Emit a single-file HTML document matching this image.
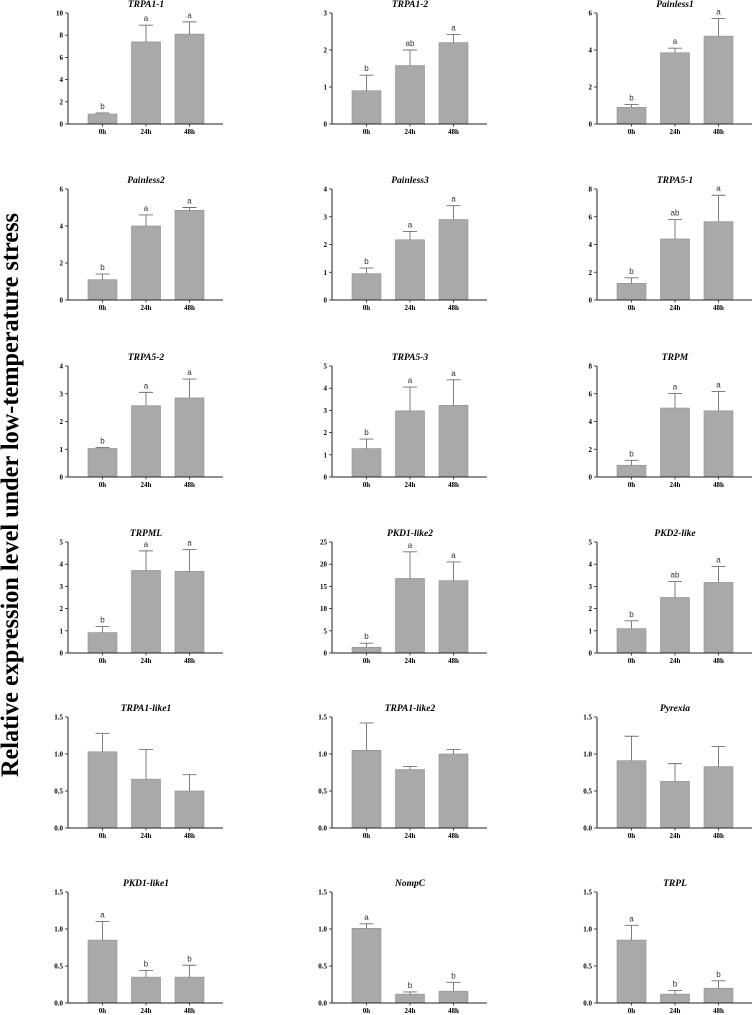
<!DOCTYPE html>
<html><head><meta charset="utf-8"><style>
html,body{margin:0;padding:0;background:#fff;}
svg{display:block;}
</style></head><body>
<svg id="fig" width="756" height="1015" viewBox="0 0 756 1015" xmlns="http://www.w3.org/2000/svg">
<text x="0" y="0" transform="translate(18,495) rotate(-90)" text-anchor="middle" font-family="Liberation Serif, serif" font-weight="bold" font-size="25" textLength="564" lengthAdjust="spacingAndGlyphs">Relative expression level under low-temperature stress</text>
</svg>
<script>
const genes=["TRPA1-1","TRPA1-2","Painless1","Painless2","Painless3","TRPA5-1","TRPA5-2","TRPA5-3","TRPM","TRPML","PKD1-like2","PKD2-like","TRPA1-like1","TRPA1-like2","Pyrexia","PKD1-like1","NompC","TRPL"];
const categories=["0h","24h","48h"];
const means=[[0.9,7.4,8.1],[0.9,1.58,2.2],[0.9,3.85,4.75],[1.1,4.0,4.85],[0.95,2.17,2.9],[1.2,4.4,5.65],[1.03,2.57,2.85],[1.28,2.98,3.23],[0.85,4.97,4.77],[0.92,3.72,3.68],[1.3,16.8,16.3],[1.1,2.5,3.18],[1.03,0.66,0.5],[1.05,0.79,1.0],[0.91,0.63,0.83],[0.85,0.35,0.35],[1.01,0.12,0.16],[0.85,0.12,0.2]];
const errors=[[0.1,1.5,1.1],[0.42,0.42,0.22],[0.15,0.25,0.95],[0.3,0.6,0.15],[0.2,0.3,0.5],[0.4,1.4,1.9],[0.03,0.48,0.68],[0.43,1.07,1.15],[0.35,1.05,1.4],[0.27,0.88,0.98],[0.9,6,4.2],[0.35,0.72,0.72],[0.25,0.4,0.22],[0.37,0.04,0.06],[0.33,0.24,0.27],[0.25,0.09,0.16],[0.06,0.03,0.12],[0.2,0.05,0.1]];
const letters=[["b","a","a"],["b","ab","a"],["b","a","a"],["b","a","a"],["b","a","a"],["b","ab","a"],["b","a","a"],["b","a","a"],["b","a","a"],["b","a","a"],["b","a","a"],["b","ab","a"],["","",""],["","",""],["","",""],["a","b","b"],["a","b","b"],["a","b","b"]];
const yMax=[10,3,6,6,4,8,4,5,8,5,25,5,1.5,1.5,1.5,1.5,1.5,1.5];
const yStep=[2,1,2,2,1,2,1,1,2,1,5,1,0.5,0.5,0.5,0.5,0.5,0.5];
const NS="http://www.w3.org/2000/svg";
const svg=document.getElementById('fig');
const colX=[68,332,597];
const rowBottom=[124,300,477,653,828,1003];
const PH=111;
function mk(tag,attrs,parent){const e=document.createElementNS(NS,tag);for(const k in attrs)e.setAttribute(k,attrs[k]);parent.appendChild(e);return e;}
genes.forEach((g,i)=>{
  const ax=colX[i%3], by=rowBottom[Math.floor(i/3)], ty=by-PH;
  const y=v=>by-v/yMax[i]*PH;
  const x=j=>ax+20+j*43.5;
  const grp=mk('g',{},svg);
  
  
  const t=mk('text',{x:ax+78,y:ty-6,'text-anchor':'middle','font-family':'Liberation Serif, serif','font-weight':'bold','font-style':'italic','font-size':9.5},grp);
  t.textContent=g;
  
  
  means[i].forEach((m,j)=>{
    const r=mk('rect',{x:x(j),y:y(m),width:29,height:by-y(m),fill:'#a9a9a9',stroke:'#909090','stroke-width':0.6},grp);
    
    
    const cx=x(j)+14.5, top=y(m+errors[i][j]);
    const e=mk('path',{d:`M${cx} ${y(m)}V${top}M${cx-7} ${top}H${cx+7}`,stroke:'#707070','stroke-width':0.9,fill:'none'},grp);
    
    
    if(letters[i][j]){
      const l=mk('text',{x:cx,y:top-4,'text-anchor':'middle','font-family':'Liberation Sans, sans-serif','font-size':8,fill:'#333'},grp);
      l.textContent=letters[i][j];
      
      
    }
    const c=mk('text',{x:cx,y:by+10,'text-anchor':'middle','font-family':'Liberation Serif, serif','font-weight':'bold','font-size':7},grp);
    c.textContent=categories[j];
    
    
    mk('line',{x1:cx,x2:cx,y1:by,y2:by+2.5,stroke:'#222','stroke-width':0.8},grp);
  });
  const axes=mk('path',{d:`M${ax} ${ty}V${by}H${ax+155}`,stroke:'#222','stroke-width':1,fill:'none'},grp);
  
  
  const n=Math.round(yMax[i]/yStep[i]);
  for(let k=0;k<=n;k++){
    const v=k*yStep[i];
    mk('line',{x1:ax-3,x2:ax,y1:y(v),y2:y(v),stroke:'#222','stroke-width':0.8},grp);
    const tl=mk('text',{x:ax-5,y:y(v)+2.5,'text-anchor':'end','font-family':'Liberation Serif, serif','font-weight':'bold','font-size':7},grp);
    tl.textContent=yStep[i]<1?v.toFixed(1):String(v);
    
    
  }
});
</script>
</body></html>
